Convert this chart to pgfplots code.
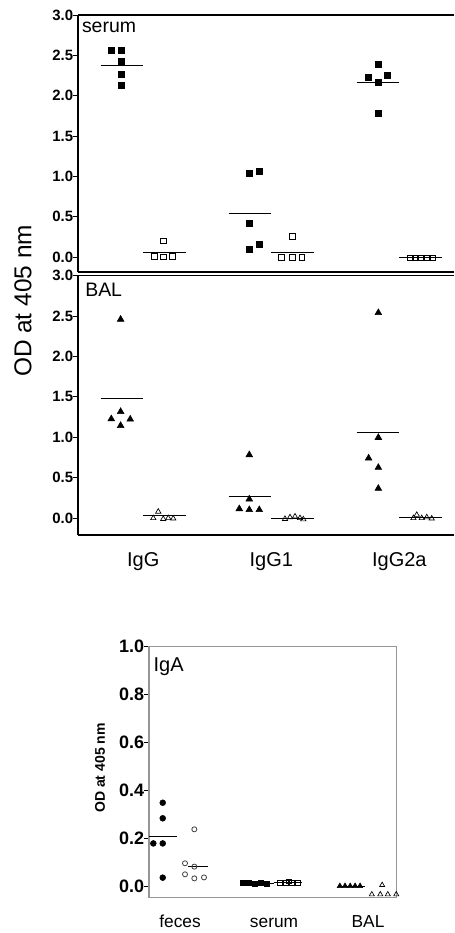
\documentclass[border=0pt]{standalone}
\usepackage{fontspec}
\setmainfont{Liberation Sans}
\usepackage{pgfplots}
\pgfplotsset{compat=1.18}

\pgfplotsset{
  panel/.style={
    scale only axis, clip=false,
    axis x line*=box, axis y line*=left,
    width=282pt,
    xmin=0.49, xmax=3.427,
    ytick={0,0.5,1,1.5,2,2.5,3},
    tick align=outside, major tick length=3.5pt,
    xtick style={draw=none},
    ytick style={black, line width=0.7pt},
    axis line style={line width=0.9pt},
    yticklabel style={font=\bfseries\fontsize{11.2}{13}\selectfont, inner sep=0pt, anchor=east},
    /pgf/number format/fixed, /pgf/number format/fixed zerofill,
    /pgf/number format/precision=1, /pgf/number format/assume math mode=true,
  },
  meanline/.style={black, line width=0.75pt, forget plot},
  fsq/.style={only marks, mark=square*, mark size=2.3pt, black},
  osq/.style={only marks, mark=square, mark size=2.1pt, black, mark options={line width=0.6pt}},
  ftri/.style={only marks, mark=triangle*, mark size=2.9pt, black},
  otri/.style={only marks, mark=triangle, mark size=2.3pt, black, mark options={line width=0.5pt}},
}

\begin{document}
\begin{tikzpicture}
\path[use as bounding box] (0,0) rectangle (340.5pt,-699.75pt);

% ---------------- serum panel ----------------
\begin{axis}[panel, at={(58.5pt,-11.25pt)}, anchor=north west,
  height=192.75pt, ymin=-0.186, ymax=3.0, xtick=\empty]
\addplot[meanline] coordinates {(0.666,2.38) (1.0,2.38)};
\addplot[meanline] coordinates {(1.0,0.05) (1.336,0.05)};
\addplot[meanline] coordinates {(1.666,0.54) (2.0,0.54)};
\addplot[meanline] coordinates {(2.0,0.05) (2.336,0.05)};
\addplot[meanline] coordinates {(2.666,2.16) (3.0,2.16)};
\addplot[meanline] coordinates {(3.0,0.0) (3.336,0.0)};
\addplot[fsq] coordinates {(0.753,2.566) (0.828,2.566) (0.828,2.43) (0.828,2.27) (0.828,2.13)};
\addplot[fsq] coordinates {(1.828,1.033) (1.906,1.062) (1.828,0.413) (1.828,0.095) (1.906,0.157)};
\addplot[fsq] coordinates {(2.836,2.39) (2.758,2.227) (2.909,2.25) (2.836,2.17) (2.836,1.777)};
\addplot[osq] coordinates {(1.156,0.20) (1.086,0.01) (1.156,0.0) (1.227,0.01)};
\addplot[osq] coordinates {(2.167,0.252) (2.081,-0.005) (2.167,-0.005) (2.238,-0.005)};
\addplot[osq, mark size=1.8pt] coordinates {(3.08,-0.01) (3.125,-0.01) (3.17,-0.01) (3.215,-0.01) (3.26,-0.01)};
\end{axis}
\node[anchor=base west, inner sep=0pt, font=\fontsize{14.6}{17}\selectfont] at (61.3pt,-24.2pt) {serum};

% ---------------- BAL panel ----------------
\begin{axis}[panel, at={(58.5pt,-206.8pt)}, anchor=north west,
  height=194.5pt, ymin=-0.21, ymax=3.0,
  xtick={1,2,3}, xticklabels={IgG,IgG1,IgG2a},
  xticklabel style={font=\fontsize{15}{18}\selectfont, anchor=base, inner sep=0pt, yshift=-20pt}]
\addplot[meanline] coordinates {(0.666,1.475) (1.0,1.475)};
\addplot[meanline] coordinates {(1.0,0.03) (1.336,0.03)};
\addplot[meanline] coordinates {(1.666,0.272) (2.0,0.272)};
\addplot[meanline] coordinates {(2.0,0.0) (2.336,0.0)};
\addplot[meanline] coordinates {(2.666,1.063) (3.0,1.063)};
\addplot[meanline] coordinates {(3.0,0.01) (3.336,0.01)};
\addplot[ftri] coordinates {(0.823,2.46) (0.750,1.228) (0.823,1.318) (0.898,1.224) (0.823,1.145)};
\addplot[ftri] coordinates {(1.828,0.783) (1.828,0.235) (1.75,0.115) (1.828,0.103) (1.906,0.103)};
\addplot[ftri] coordinates {(2.836,2.542) (2.836,0.997) (2.76,0.742) (2.836,0.626) (2.836,0.367)};
\addplot[otri] coordinates {(1.078,0.0) (1.117,0.08) (1.156,-0.01) (1.195,0.0) (1.234,-0.005)};
\addplot[otri] coordinates {(2.107,-0.01) (2.146,0.01) (2.185,0.02) (2.224,0.0) (2.25,-0.015)};
\addplot[otri] coordinates {(3.11,0.0) (3.136,0.04) (3.175,0.0) (3.214,0.01) (3.253,-0.005)};
\end{axis}
\node[anchor=base west, inner sep=0pt, font=\fontsize{14.6}{17}\selectfont] at (63.75pt,-222pt) {BAL};

\node[rotate=90, inner sep=0pt, font=\fontsize{18.3}{22}\selectfont] at (17.25pt,-225.75pt) {OD at 405 nm};

% ---------------- IgA panel ----------------
\begin{axis}[scale only axis, clip=false, at={(111.75pt,-485pt)}, anchor=north west,
  width=185.8pt, height=187.95pt,
  xmin=0.67, xmax=3.305, ymin=-0.047, ymax=1.0,
  ytick={0,0.2,0.4,0.6,0.8,1.0}, ytick pos=left,
  xtick={1,2,3}, xticklabels={feces,serum,BAL},
  tick align=outside, major tick length=3.5pt,
  xtick style={draw=none},
  ytick style={black, line width=0.7pt},
  axis line style={draw={rgb,255:red,150;green,150;blue,150}, line width=1.1pt},
  yticklabel style={font=\bfseries\fontsize{13.5}{16}\selectfont, inner sep=0pt, anchor=east},
  xticklabel style={font=\fontsize{13}{16}\selectfont, anchor=base, inner sep=0pt, yshift=-19.5pt},
  /pgf/number format/fixed, /pgf/number format/fixed zerofill,
  /pgf/number format/precision=1, /pgf/number format/assume math mode=true]
\addplot[meanline] coordinates {(0.67,0.205) (0.968,0.205)};
\addplot[meanline, line width=0.6pt] coordinates {(1.09,0.084) (1.30,0.084)};
\addplot[meanline] coordinates {(1.67,0.012) (2.0,0.012)};
\addplot[meanline] coordinates {(2.0,0.013) (2.3,0.013)};
\addplot[meanline] coordinates {(2.68,0.0) (2.97,0.0)};
\addplot[only marks, mark=*, mark size=2.2pt, black] coordinates {(0.816,0.348) (0.816,0.283) (0.716,0.178) (0.816,0.178) (0.816,0.035)};
\addplot[only marks, mark=o, mark size=1.9pt, black!75, mark options={line width=0.6pt}] coordinates {(1.152,0.237) (1.053,0.095) (1.152,0.081) (1.053,0.049) (1.152,0.032) (1.255,0.036)};
\addplot[only marks, mark=square*, mark size=1.8pt, black] coordinates {(1.67,0.012) (1.734,0.015) (1.798,0.01) (1.862,0.014) (1.926,0.01)};
\addplot[only marks, mark=square, mark size=1.8pt, black, mark options={line width=0.5pt}] coordinates {(2.064,0.012) (2.128,0.014) (2.16,0.02) (2.191,0.012) (2.255,0.012)};
\addplot[only marks, mark=triangle*, mark size=2.3pt, black] coordinates {(2.70,0.0) (2.755,0.0) (2.81,0.0) (2.862,0.0) (2.915,0.0)};
\addplot[only marks, mark=triangle, mark size=2.2pt, black, mark options={line width=0.5pt}] coordinates {(3.15,0.004) (3.04,-0.035) (3.13,-0.035) (3.21,-0.035) (3.30,-0.035)};
\end{axis}
\node[anchor=base west, inner sep=0pt, font=\fontsize{15}{18}\selectfont] at (115pt,-503.8pt) {IgA};
\node[rotate=90, inner sep=0pt, font=\bfseries\fontsize{10.5}{13}\selectfont] at (75pt,-576pt) {OD at 405 nm};
\end{tikzpicture}
\end{document}
